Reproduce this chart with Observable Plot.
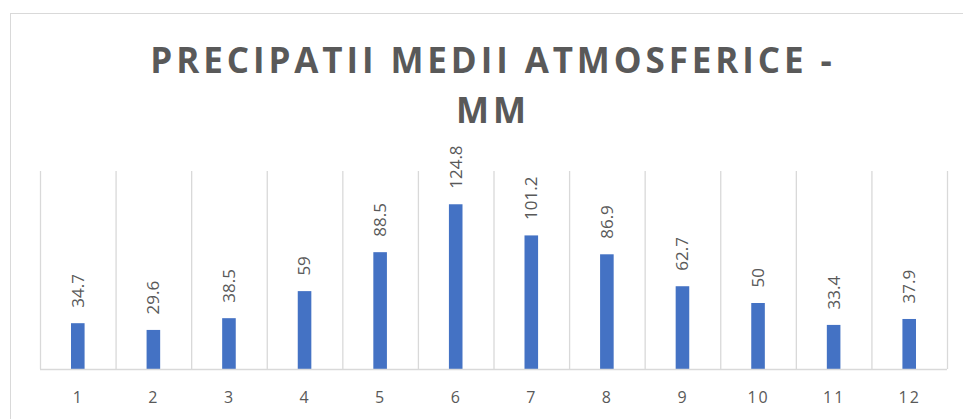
<!DOCTYPE html>
<html>
<head>
<meta charset="utf-8">
<script src="https://cdn.jsdelivr.net/npm/d3@7"></script>
<script src="https://cdn.jsdelivr.net/npm/@observablehq/plot@0.6"></script>
<style>
  html, body { margin: 0; padding: 0; background: #fff; overflow: hidden; width: 963px; height: 419px; }
  #wrap { position: relative; width: 963px; height: 419px; }
  #frame { position: absolute; left: 10px; top: 13px; width: 1000px; height: 500px; border: 1px solid #d9d9d9; box-sizing: border-box; }
  #title { position: absolute; left: 0; top: 35px; width: 986px; text-align: center; font-family: "Open Sans", sans-serif; font-weight: 700; font-size: 35px; line-height: 50px; letter-spacing: 3.9px; color: #595959; }
  #chart { position: absolute; left: 0; top: 0; }
  #chart svg { display: block; }
</style>
</head>
<body>
<div id="wrap">
  <div id="frame"></div>
  <div id="chart"></div>
  <div id="title">PRECIPATII MEDII ATMOSFERICE -<br>MM</div>
</div>
<script>
const months = [1, 2, 3, 4, 5, 6, 7, 8, 9, 10, 11, 12];
const values = [34.7, 29.6, 38.5, 59, 88.5, 124.8, 101.2, 86.9, 62.7, 50, 33.4, 37.9];
const labels = ["34.7", "29.6", "38.5", "59", "88.5", "124.8", "101.2", "86.9", "62.7", "50", "33.4", "37.9"];

const data = months.map((m, i) => ({month: m, value: values[i], label: labels[i]}));
const boundaries = months.map(m => m - 0.5).concat([months[months.length - 1] + 0.5]);

const chart = Plot.plot({
  width: 963,
  height: 419,
  marginLeft: 40,
  marginRight: 16,
  marginTop: 171,
  marginBottom: 50,
  style: {background: "transparent", fontFamily: "'Open Sans', sans-serif"},
  x: {type: "linear", domain: [0.5, 12.5]},
  y: {domain: [0, 150], axis: null},
  marks: [
    Plot.ruleX(boundaries, {stroke: "#d9d9d9", strokeWidth: 1.3}),
    Plot.rectY(data, {x1: d => d.month - 0.5, x2: d => d.month + 0.5, y: "value", fill: "#4472C4", insetLeft: 31, insetRight: 31}),
    Plot.ruleY([0], {stroke: "#d9d9d9", strokeWidth: 1.5}),
    Plot.text(data, {x: "month", y: "value", text: "label", rotate: -90, textAnchor: "start", lineAnchor: "middle", dy: -16, fill: "#595959", fontSize: 17}),
    Plot.axisX({ticks: months, tickFormat: d => String(d), tickSize: 0, tickPadding: 22, fontSize: 16, fill: "#595959", label: null})
  ]
});
document.getElementById("chart").append(chart);
chart.querySelectorAll("[aria-label='x-axis tick label'] text").forEach(t => t.setAttribute("letter-spacing", "2"));
</script>
</body>
</html>
